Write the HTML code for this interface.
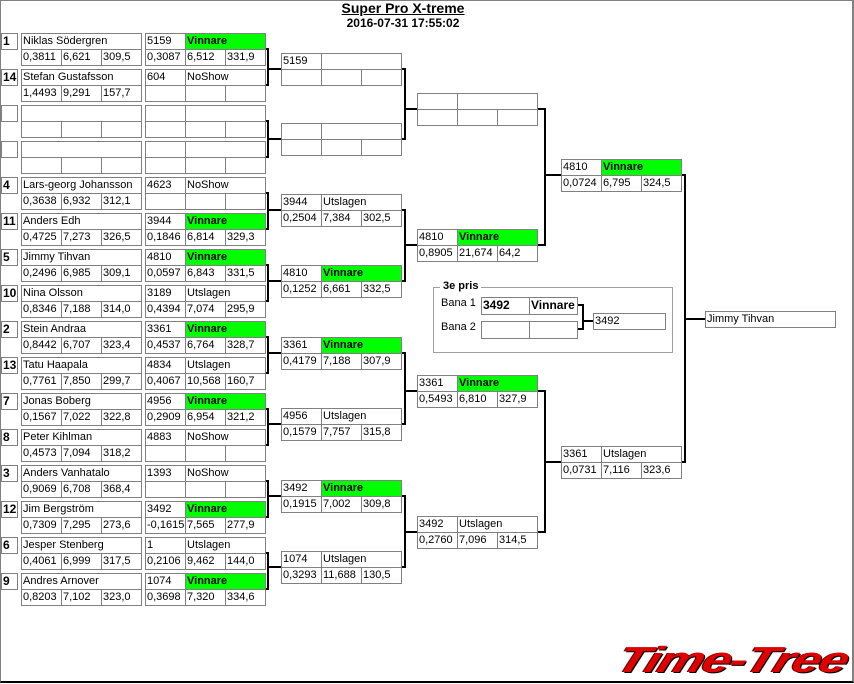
<!DOCTYPE html>
<html><head><meta charset="utf-8"><style>
body{margin:0;width:854px;height:684px;position:relative;overflow:hidden;background:#fff;font-family:"Liberation Sans",sans-serif;font-size:11px;color:#000}
#fr{position:absolute;left:0;top:0;width:851px;height:680px;border:1px solid #808080;border-bottom:2px solid #000;border-right:2px solid #808080}
.m{position:absolute;width:121px;height:33px}
.m>*{position:absolute;box-sizing:border-box;border:1px solid #808080;height:17px;line-height:15px;padding-left:1px;white-space:nowrap;overflow:hidden;font-style:normal;font-weight:normal;text-decoration:none}
.a{left:0;top:0;width:41px}.b{left:40px;top:0;width:81px}.w{left:0;top:0;width:121px}
.c{left:0;top:16px;width:41px}.d{left:40px;top:16px;width:41px}.e{left:80px;top:16px;width:41px}
.g{background:#00ff00;font-weight:bold!important}
.s{position:absolute;left:1px;width:17px;height:17px;box-sizing:border-box;border:1px solid #808080;font-weight:bold;line-height:15px;padding-left:1px;font-size:12px}
#t{position:absolute;left:0;width:806px;text-align:center;font-weight:bold}
</style></head><body>
<div id="fr"></div>
<div id="t" style="top:0px;font-size:14px;text-decoration:underline">Super Pro X-treme</div>
<div id="t" style="top:16px;font-size:12px">2016-07-31 17:55:02</div>

<svg width="854" height="684" style="position:absolute;left:0;top:0" fill="none" stroke="#000" stroke-width="2">
<path d="M265 49H268V85H265M268 69H281"/>
<path d="M265 121H268V157H265M268 139H281"/>
<path d="M265 193H268V229H265M268 210H281"/>
<path d="M265 265H268V301H265M268 281H281"/>
<path d="M265 337H268V373H265M268 353H281"/>
<path d="M265 409H268V445H265M268 424H281"/>
<path d="M265 481H268V517H265M268 496H281"/>
<path d="M265 553H268V589H265M268 567H281"/>
<path d="M401 69H405V139H401M405 109H417"/>
<path d="M401 210H405V281H401M405 245H417"/>
<path d="M401 353H405V424H401M405 391H417"/>
<path d="M401 496H405V567H401M405 532H417"/>
<path d="M537 109H545V245H537M545 175H561"/>
<path d="M537 391H545V532H537M545 462H561"/>
<path d="M681 175H685V462H681M685 319H705"/>
<path d="M577 305H583V329H577M583 321H593"/>
</svg>

<!-- seeds -->
<div class="s" style="top:33px">1</div><div class="s" style="top:69px">14</div>
<div class="s" style="top:105px"></div><div class="s" style="top:141px"></div>
<div class="s" style="top:177px">4</div><div class="s" style="top:213px">11</div>
<div class="s" style="top:249px">5</div><div class="s" style="top:285px">10</div>
<div class="s" style="top:321px">2</div><div class="s" style="top:357px">13</div>
<div class="s" style="top:393px">7</div><div class="s" style="top:429px">8</div>
<div class="s" style="top:465px">3</div><div class="s" style="top:501px">12</div>
<div class="s" style="top:537px">6</div><div class="s" style="top:573px">9</div>

<!-- names -->
<div class="m" style="left:21px;top:33px"><i class="w">Niklas Södergren</i><i class="c">0,3811</i><i class="d">6,621</i><i class="e">309,5</i></div>
<div class="m" style="left:21px;top:69px"><i class="w">Stefan Gustafsson</i><i class="c">1,4493</i><i class="d">9,291</i><i class="e">157,7</i></div>
<div class="m" style="left:21px;top:105px"><i class="w"></i><i class="c"></i><i class="d"></i><i class="e"></i></div>
<div class="m" style="left:21px;top:141px"><i class="w"></i><i class="c"></i><i class="d"></i><i class="e"></i></div>
<div class="m" style="left:21px;top:177px"><i class="w">Lars-georg Johansson</i><i class="c">0,3638</i><i class="d">6,932</i><i class="e">312,1</i></div>
<div class="m" style="left:21px;top:213px"><i class="w">Anders Edh</i><i class="c">0,4725</i><i class="d">7,273</i><i class="e">326,5</i></div>
<div class="m" style="left:21px;top:249px"><i class="w">Jimmy Tihvan</i><i class="c">0,2496</i><i class="d">6,985</i><i class="e">309,1</i></div>
<div class="m" style="left:21px;top:285px"><i class="w">Nina Olsson</i><i class="c">0,8346</i><i class="d">7,188</i><i class="e">314,0</i></div>
<div class="m" style="left:21px;top:321px"><i class="w">Stein Andraa</i><i class="c">0,8442</i><i class="d">6,707</i><i class="e">323,4</i></div>
<div class="m" style="left:21px;top:357px"><i class="w">Tatu Haapala</i><i class="c">0,7761</i><i class="d">7,850</i><i class="e">299,7</i></div>
<div class="m" style="left:21px;top:393px"><i class="w">Jonas Boberg</i><i class="c">0,1567</i><i class="d">7,022</i><i class="e">322,8</i></div>
<div class="m" style="left:21px;top:429px"><i class="w">Peter Kihlman</i><i class="c">0,4573</i><i class="d">7,094</i><i class="e">318,2</i></div>
<div class="m" style="left:21px;top:465px"><i class="w">Anders Vanhatalo</i><i class="c">0,9069</i><i class="d">6,708</i><i class="e">368,4</i></div>
<div class="m" style="left:21px;top:501px"><i class="w">Jim Bergström</i><i class="c">0,7309</i><i class="d">7,295</i><i class="e">273,6</i></div>
<div class="m" style="left:21px;top:537px"><i class="w">Jesper Stenberg</i><i class="c">0,4061</i><i class="d">6,999</i><i class="e">317,5</i></div>
<div class="m" style="left:21px;top:573px"><i class="w">Andres Arnover</i><i class="c">0,8203</i><i class="d">7,102</i><i class="e">323,0</i></div>

<!-- round 1 results -->
<div class="m" style="left:145px;top:33px"><i class="a">5159</i><i class="b g">Vinnare</i><i class="c">0,3087</i><i class="d">6,512</i><i class="e">331,9</i></div>
<div class="m" style="left:145px;top:69px"><i class="a">604</i><i class="b">NoShow</i><i class="c"></i><i class="d"></i><i class="e"></i></div>
<div class="m" style="left:145px;top:105px"><i class="a"></i><i class="b"></i><i class="c"></i><i class="d"></i><i class="e"></i></div>
<div class="m" style="left:145px;top:141px"><i class="a"></i><i class="b"></i><i class="c"></i><i class="d"></i><i class="e"></i></div>
<div class="m" style="left:145px;top:177px"><i class="a">4623</i><i class="b">NoShow</i><i class="c"></i><i class="d"></i><i class="e"></i></div>
<div class="m" style="left:145px;top:213px"><i class="a">3944</i><i class="b g">Vinnare</i><i class="c">0,1846</i><i class="d">6,814</i><i class="e">329,3</i></div>
<div class="m" style="left:145px;top:249px"><i class="a">4810</i><i class="b g">Vinnare</i><i class="c">0,0597</i><i class="d">6,843</i><i class="e">331,5</i></div>
<div class="m" style="left:145px;top:285px"><i class="a">3189</i><i class="b">Utslagen</i><i class="c">0,4394</i><i class="d">7,074</i><i class="e">295,9</i></div>
<div class="m" style="left:145px;top:321px"><i class="a">3361</i><i class="b g">Vinnare</i><i class="c">0,4537</i><i class="d">6,764</i><i class="e">328,7</i></div>
<div class="m" style="left:145px;top:357px"><i class="a">4834</i><i class="b">Utslagen</i><i class="c">0,4067</i><i class="d">10,568</i><i class="e">160,7</i></div>
<div class="m" style="left:145px;top:393px"><i class="a">4956</i><i class="b g">Vinnare</i><i class="c">0,2909</i><i class="d">6,954</i><i class="e">321,2</i></div>
<div class="m" style="left:145px;top:429px"><i class="a">4883</i><i class="b">NoShow</i><i class="c"></i><i class="d"></i><i class="e"></i></div>
<div class="m" style="left:145px;top:465px"><i class="a">1393</i><i class="b">NoShow</i><i class="c"></i><i class="d"></i><i class="e"></i></div>
<div class="m" style="left:145px;top:501px"><i class="a">3492</i><i class="b g">Vinnare</i><i class="c">-0,1615</i><i class="d">7,565</i><i class="e">277,9</i></div>
<div class="m" style="left:145px;top:537px"><i class="a">1</i><i class="b">Utslagen</i><i class="c">0,2106</i><i class="d">9,462</i><i class="e">144,0</i></div>
<div class="m" style="left:145px;top:573px"><i class="a">1074</i><i class="b g">Vinnare</i><i class="c">0,3698</i><i class="d">7,320</i><i class="e">334,6</i></div>

<!-- round 2 -->
<div class="m" style="left:281px;top:53px"><i class="a">5159</i><i class="b"></i><i class="c"></i><i class="d"></i><i class="e"></i></div>
<div class="m" style="left:281px;top:123px"><i class="a"></i><i class="b"></i><i class="c"></i><i class="d"></i><i class="e"></i></div>
<div class="m" style="left:281px;top:194px"><i class="a">3944</i><i class="b">Utslagen</i><i class="c">0,2504</i><i class="d">7,384</i><i class="e">302,5</i></div>
<div class="m" style="left:281px;top:265px"><i class="a">4810</i><i class="b g">Vinnare</i><i class="c">0,1252</i><i class="d">6,661</i><i class="e">332,5</i></div>
<div class="m" style="left:281px;top:337px"><i class="a">3361</i><i class="b g">Vinnare</i><i class="c">0,4179</i><i class="d">7,188</i><i class="e">307,9</i></div>
<div class="m" style="left:281px;top:408px"><i class="a">4956</i><i class="b">Utslagen</i><i class="c">0,1579</i><i class="d">7,757</i><i class="e">315,8</i></div>
<div class="m" style="left:281px;top:480px"><i class="a">3492</i><i class="b g">Vinnare</i><i class="c">0,1915</i><i class="d">7,002</i><i class="e">309,8</i></div>
<div class="m" style="left:281px;top:551px"><i class="a">1074</i><i class="b">Utslagen</i><i class="c">0,3293</i><i class="d">11,688</i><i class="e">130,5</i></div>

<!-- round 3 -->
<div class="m" style="left:417px;top:93px"><i class="a"></i><i class="b"></i><i class="c"></i><i class="d"></i><i class="e"></i></div>
<div class="m" style="left:417px;top:229px"><i class="a">4810</i><i class="b g">Vinnare</i><i class="c">0,8905</i><i class="d">21,674</i><i class="e">64,2</i></div>
<div class="m" style="left:417px;top:375px"><i class="a">3361</i><i class="b g">Vinnare</i><i class="c">0,5493</i><i class="d">6,810</i><i class="e">327,9</i></div>
<div class="m" style="left:417px;top:516px"><i class="a">3492</i><i class="b">Utslagen</i><i class="c">0,2760</i><i class="d">7,096</i><i class="e">314,5</i></div>

<!-- round 4 -->
<div class="m" style="left:561px;top:159px"><i class="a">4810</i><i class="b g">Vinnare</i><i class="c">0,0724</i><i class="d">6,795</i><i class="e">324,5</i></div>
<div class="m" style="left:561px;top:446px"><i class="a">3361</i><i class="b">Utslagen</i><i class="c">0,0731</i><i class="d">7,116</i><i class="e">323,6</i></div>

<!-- final -->
<div class="m" style="left:705px;top:311px;width:131px;height:17px"><i class="w" style="width:131px">Jimmy Tihvan</i></div>

<!-- 3e pris -->
<div style="position:absolute;left:433px;top:287px;width:238px;height:64px;border:1px solid #a0a0a0"></div>
<div style="position:absolute;left:440px;top:280px;background:#fff;font-weight:bold;padding:0 3px">3e pris</div>
<div style="position:absolute;left:441px;top:297px">Bana 1</div>
<div style="position:absolute;left:441px;top:321px">Bana 2</div>
<div class="m" style="left:481px;top:297px;width:97px;height:18px"><i style="left:0;top:0;width:49px;height:18px;font-weight:bold;font-size:12px">3492</i><i style="left:48px;top:0;width:49px;height:18px;font-weight:bold;font-size:12px">Vinnare</i></div>
<div class="m" style="left:481px;top:321px;width:97px;height:18px"><i style="left:0;top:0;width:49px;height:18px"></i><i style="left:48px;top:0;width:49px;height:18px"></i></div>
<div class="m" style="left:593px;top:313px;width:73px;height:17px"><i style="left:0;top:0;width:73px">3492</i></div>

<!-- logo -->
<div style="position:absolute;left:618px;top:640px;font-size:36px;font-weight:bold;font-style:italic;color:#e00000;letter-spacing:-1px;transform-origin:0 50%;transform:skewX(-20deg) scaleX(1.42);text-shadow:1px 1px 0 #000,-1px 0 0 #600;line-height:40px;white-space:nowrap">Time-Tree</div>
</body></html>
